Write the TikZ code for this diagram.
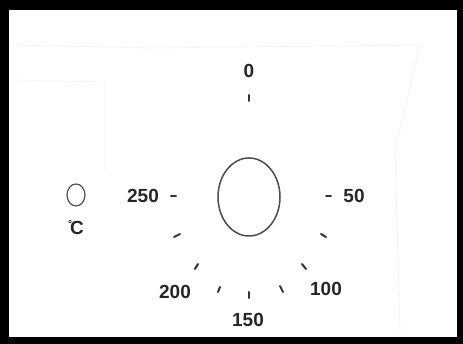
\documentclass[tikz,border=0pt]{standalone}
\usepackage{fontspec}
\setmainfont{Liberation Sans}
\begin{document}
\begin{tikzpicture}[x=1pt,y=-1pt,
  lbl/.style={font=\fontsize{19}{19}\selectfont\bfseries, text=black!85, inner sep=0pt},
  tick/.style={line width=2pt, draw=black!80, line cap=round},
  ring/.style={draw=black!70, line width=1.5pt}]
\useasboundingbox (0,0) rectangle (463,344);
\fill[black] (0,0) rectangle (463,344);
\fill[white] (9,10) rectangle (457,337);
% faint background outlines
\draw[black!6, line width=0.6pt] (12,45) -- (150,48) -- (420,45) -- (395,150) -- (400,330);
\draw[black!5, line width=0.6pt] (12,80) -- (105,82) -- (105,170);
% dial
\draw[ring] (249,197) ellipse [x radius=31, y radius=39];
\node[lbl] (l0) at (249,71) {0};
\node[lbl] (l50) at (354,196) {50};
\node[lbl] (l100) at (326,289) {100};
\node[lbl] (l150) at (248,320) {150};
\node[lbl] (l200) at (175,292) {200};
\node[lbl] (l250) at (143,196) {250};
\draw[tick] (249,95) -- (249,101);
\draw[tick] (171,196) -- (176,196);
\draw[tick] (326,196) -- (331,196);
\draw[tick] (174,237) -- (180,234);
\draw[tick] (195,269) -- (198,264);
\draw[tick] (218,292) -- (220,287);
\draw[tick] (249,292) -- (249,298);
\draw[tick] (280,286) -- (283,292);
\draw[tick] (302,264) -- (306,269);
\draw[tick] (321,234) -- (326,237);
% thermometer symbol
\draw[ring, line width=1.2pt] (76,195) ellipse [x radius=9, y radius=11];
\node[lbl] (deg) at (76,228) {\raisebox{7pt}{\fontsize{10}{10}\selectfont°}\kern-2pt C};
\end{tikzpicture}
\end{document}
